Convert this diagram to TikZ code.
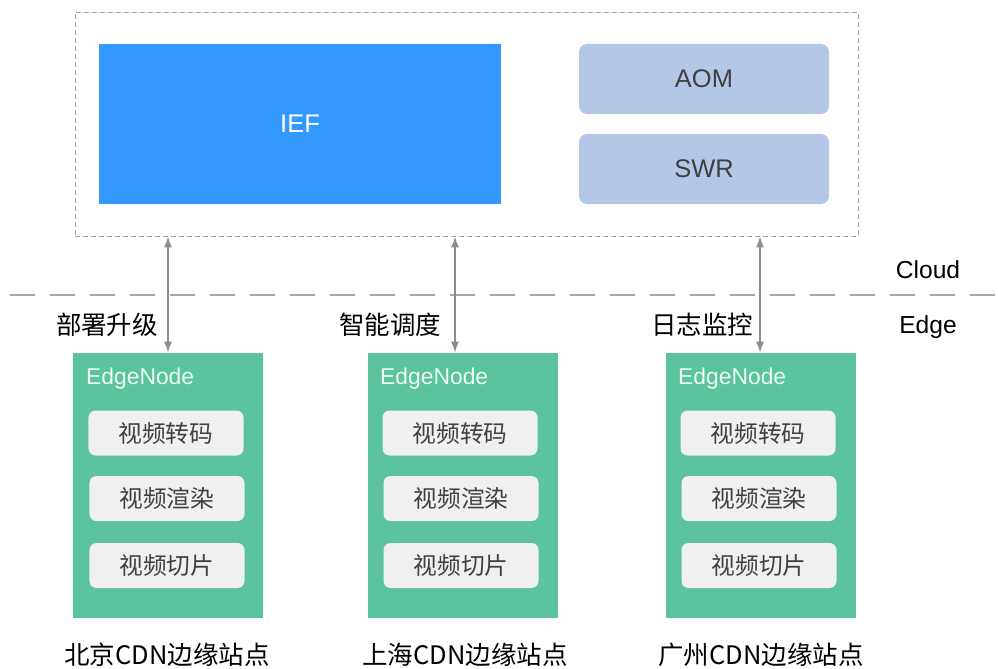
\documentclass[tikz,border=0pt]{standalone}
\usepackage{fontspec}
\setmainfont{Liberation Sans}
\newfontfamily\cjk{Noto Sans CJK SC}
\usepackage{tikz}
\usetikzlibrary{arrows.meta}

\definecolor{iefblue}{HTML}{3399FF}
\definecolor{svcblue}{HTML}{B4C7E7}
\definecolor{nodegreen}{HTML}{5BC39E}
\definecolor{taskgray}{HTML}{F0F0F0}
\definecolor{linegray}{HTML}{8C8C8C}
\definecolor{dashgray}{HTML}{A6A6A6}
\definecolor{textgray}{HTML}{404040}

\begin{document}
\begin{tikzpicture}[x=0.2mm, y=-0.2mm]
			\tikzstyle{arrow}=[draw, {Latex[length=2.2mm,width=1.6mm]}-{Latex[length=2.2mm,width=1.6mm]}, linegray, line width=0.9pt]
			\tikzstyle{svc}=[fill=svcblue, rounded corners=1.6mm, minimum width=50mm, minimum height=14mm, text=textgray, text height=0.95em, text depth=0pt, font=\fontsize{14.5}{16}\selectfont]
			\tikzstyle{edgebox}=[fill=nodegreen, minimum width=38mm, minimum height=53mm]
			\tikzstyle{task}=[fill=taskgray, rounded corners=1.4mm, minimum width=31mm, minimum height=9mm, text=textgray, text height=1.05em, text depth=0pt, font=\cjk\fontsize{13.5}{15}\selectfont]
			\tikzstyle{tag}=[font=\cjk\fontsize{14.5}{16}\selectfont]
			\newcommand\Yedge{485.5}
			\newcommand\Ytaska{433}
			\newcommand\Ytaskb{498.5}
			\newcommand\Ytaskc{565.5}
			\newcommand\Ysite{655}

			\useasboundingbox (0,0) rectangle (998,669);

			% Cloud
			\node [draw=dashgray, dash pattern=on 1mm off 0.6mm, minimum width=156.6mm, minimum height=44.8mm] at (466.5,124) (cloud) {};
			\node [fill=iefblue, minimum width=80.4mm, minimum height=32mm, text=white, text height=0.95em, text depth=0pt, font=\fontsize{14.5}{16}\selectfont] at (300,124) (ief) {IEF};
			\node [svc] at (704,79) (aom) {AOM};
			\node [svc] at (704,169) (swr) {SWR};

			% Divider
			\draw [dashgray, thick, dash pattern=on 5mm off 3mm] (10,295) -- (998,295);
			\node [font=\fontsize{14}{16}\selectfont] at (928,270) (cloudtag) {Cloud};
			\node [font=\fontsize{14}{16}\selectfont] at (928,327) (edgetag) {Edge};

			% Edge nodes
			\node [edgebox] at (168,\Yedge) (e1) {};
			\node [edgebox] at (462.5,\Yedge) (e2) {};
			\node [edgebox] at (760.5,\Yedge) (e3) {};
			\node [anchor=west, text=white!92!green, font=\fontsize{13}{15}\selectfont] at (80,379) (n1) {EdgeNode};
			\node [anchor=west, text=white!92!green, font=\fontsize{13}{15}\selectfont] at (374,379) (n2) {EdgeNode};
			\node [anchor=west, text=white!92!green, font=\fontsize{13}{15}\selectfont] at (672,379) (n3) {EdgeNode};

			 % Tasks
			\node [task] at (166,\Ytaska) (t1a) {视频转码};
			\node [task] at (167,\Ytaskb) (t1b) {视频渲染};
			\node [task] at (167,\Ytaskc) (t1c) {视频切片};
			\node [task] at (460,\Ytaska) (t2a) {视频转码};
			\node [task] at (461,\Ytaskb) (t2b) {视频渲染};
			\node [task] at (461,\Ytaskc) (t2c) {视频切片};
			\node [task] at (758,\Ytaska) (t3a) {视频转码};
			\node [task] at (759,\Ytaskb) (t3b) {视频渲染};
			\node [task] at (759,\Ytaskc) (t3c) {视频切片};

			 % Sites
			\node [tag] at (167,\Ysite) (s1) {北京CDN边缘站点};
			\node [tag] at (465,\Ysite) (s2) {上海CDN边缘站点};
			\node [tag] at (761,\Ysite) (s3) {广州CDN边缘站点};

			 % Path Arrows
			\path [arrow] (e1.north) -- (e1.north |- cloud.south);
			\path [arrow] ([xshift=-1.5mm]e2.north) -- ([xshift=-1.5mm]e2.north |- cloud.south);
			\path [arrow] ([xshift=-0.1mm]e3.north) -- ([xshift=-0.1mm]e3.north |- cloud.south);
			\node [tag] at (107,325) (l1) {部署升级};
			\node [tag] at (390,325) (l2) {智能调度};
			\node [tag] at (702,325) (l3) {日志监控};

		\end{tikzpicture}
\end{document}
